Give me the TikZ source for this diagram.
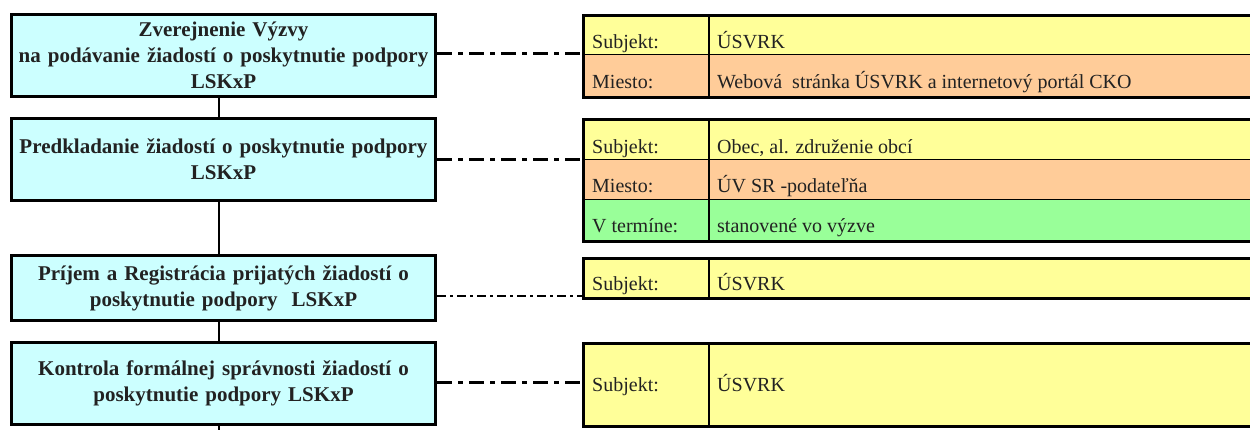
\documentclass[tikz,border=0pt]{standalone}
\usepackage{fontspec}
\setmainfont{Liberation Serif}
\definecolor{boxcyan}{HTML}{CCFFFF}
\definecolor{rowyel}{HTML}{FFFF99}
\definecolor{rowpeach}{HTML}{FFCC99}
\definecolor{rowgreen}{HTML}{99FF99}
\definecolor{txt}{HTML}{222222}
\begin{document}
\begin{tikzpicture}[x=1pt,y=-1pt,
  procbox/.style={draw, line width=3pt, fill=boxcyan, minimum width=424pt, text width=420pt,
    align=center, inner sep=0pt, font=\bfseries\fontsize{21}{26}\selectfont, text=txt},
  cellL/.style={draw, line width=1.5pt, minimum width=126pt, inner sep=0pt, anchor=north west},
  cellR/.style={draw, line width=1.5pt, minimum width=600pt, inner sep=0pt, anchor=north west},
  tframe/.style={draw, line width=3pt, minimum width=726pt, inner sep=0pt, anchor=north west},
  lbl/.style={anchor=base west, inner sep=0pt, font=\fontsize{20}{22}\selectfont, text=txt},
  conn/.style={line width=3pt, dash pattern=on 15pt off 6pt on 5pt off 6pt},
  connthin/.style={line width=1.5pt, dash pattern=on 9pt off 4pt on 3pt off 4pt},
  vline/.style={line width=2pt}
]
\useasboundingbox (0,0) rectangle (1250,430);
\clip (0,0) rectangle (1250,430);

% ---------- process boxes ----------
\node[procbox, minimum height=82pt] (b1) at (223.5,55.5)
  {Zverejnenie Výzvy\\na podávanie žiadostí o poskytnutie podpory\\LSKxP};
\node[procbox, minimum height=82pt] (b2) at (223.5,159.5)
  {Predkladanie žiadostí o poskytnutie podpory\\LSKxP};
\node[procbox, minimum height=64pt] (b3) at (223.5,288)
  {Príjem a Registrácia prijatých žiadostí o\\poskytnutie podpory~ LSKxP};
\node[procbox, minimum height=82pt] (b4) at (223.5,383.5)
  {Kontrola formálnej správnosti žiadostí o\\poskytnutie podpory LSKxP};

% ---------- table 1 ----------
\node[cellL, fill=rowyel,   minimum height=40pt] (t1a) at (582,14) {};
\node[cellR, fill=rowyel,   minimum height=40pt] (t1b) at (708,14) {};
\node[cellL, fill=rowpeach, minimum height=42pt] (t1c) at (582,54) {};
\node[cellR, fill=rowpeach, minimum height=42pt] (t1d) at (708,54) {};
\node[tframe, minimum height=82pt] (T1) at (582,14) {};
\node[lbl] at ([shift={(10,-7)}]t1a.south west) {Subjekt:};
\node[lbl] at ([shift={(9,-7)}]t1b.south west) {ÚSVRK};
\node[lbl] at ([shift={(10,-9)}]t1c.south west) {Miesto:};
\node[lbl] at ([shift={(9,-9)}]t1d.south west) {Webová\ \ stránka ÚSVRK a internetový portál CKO};

% ---------- table 2 ----------
\node[cellL, fill=rowyel,   minimum height=41pt] (t2a) at (582,118) {};
\node[cellR, fill=rowyel,   minimum height=41pt] (t2b) at (708,118) {};
\node[cellL, fill=rowpeach, minimum height=40pt] (t2c) at (582,159) {};
\node[cellR, fill=rowpeach, minimum height=40pt] (t2d) at (708,159) {};
\node[cellL, fill=rowgreen, minimum height=41pt] (t2e) at (582,199) {};
\node[cellR, fill=rowgreen, minimum height=41pt] (t2f) at (708,199) {};
\node[tframe, minimum height=122pt] (T2) at (582,118) {};
\node[lbl] at ([shift={(10,-7)}]t2a.south west) {Subjekt:};
\node[lbl] at ([shift={(9,-7)}]t2b.south west) {Obec, al. združenie obcí};
\node[lbl] at ([shift={(10,-8)}]t2c.south west) {Miesto:};
\node[lbl] at ([shift={(9,-8)}]t2d.south west) {ÚV SR -podateľňa};
\node[lbl] at ([shift={(10,-9)}]t2e.south west) {V termíne:};
\node[lbl] at ([shift={(9,-9)}]t2f.south west) {stanovené vo výzve};

% ---------- table 3 ----------
\node[cellL, fill=rowyel, minimum height=40pt] (t3a) at (582,257) {};
\node[cellR, fill=rowyel, minimum height=40pt] (t3b) at (708,257) {};
\node[tframe, minimum height=40pt] (T3) at (582,257) {};
\node[lbl] at ([shift={(10,-8)}]t3a.south west) {Subjekt:};
\node[lbl] at ([shift={(9,-8)}]t3b.south west) {ÚSVRK};

% ---------- table 4 ----------
\node[cellL, fill=rowyel, minimum height=83pt] (t4a) at (582,342) {};
\node[cellR, fill=rowyel, minimum height=83pt] (t4b) at (708,342) {};
\node[tframe, minimum height=83pt] (T4) at (582,342) {};
\node[lbl] at ([shift={(10,-35)}]t4a.south west) {Subjekt:};
\node[lbl] at ([shift={(9,-35)}]t4b.south west) {ÚSVRK};

% ---------- vertical flow connectors ----------
\coordinate (flowend) at (218.5,432);
\draw[vline] ([xshift=-5pt]b1.south) -- ([xshift=-5pt]b2.north);
\draw[vline] ([xshift=-5pt]b2.south) -- ([xshift=-5pt]b3.north);
\draw[vline] ([xshift=-5pt]b3.south) -- ([xshift=-5pt]b4.north);
\draw[vline] ([xshift=-5pt]b4.south) -- (flowend);

% ---------- dash-dot connectors ----------
\draw[conn] ([yshift=1.5pt]b1.east) -- ([yshift=1.5pt]b1.east -| T1.west);
\draw[conn] (b2.east) -- (b2.east -| T2.west);
\draw[connthin] ([yshift=-8pt]b3.east) -- ([yshift=-8pt]b3.east -| T3.west);
\draw[conn] ([yshift=1.5pt]b4.east) -- ([yshift=1.5pt]b4.east -| T4.west);
\end{tikzpicture}
\end{document}
